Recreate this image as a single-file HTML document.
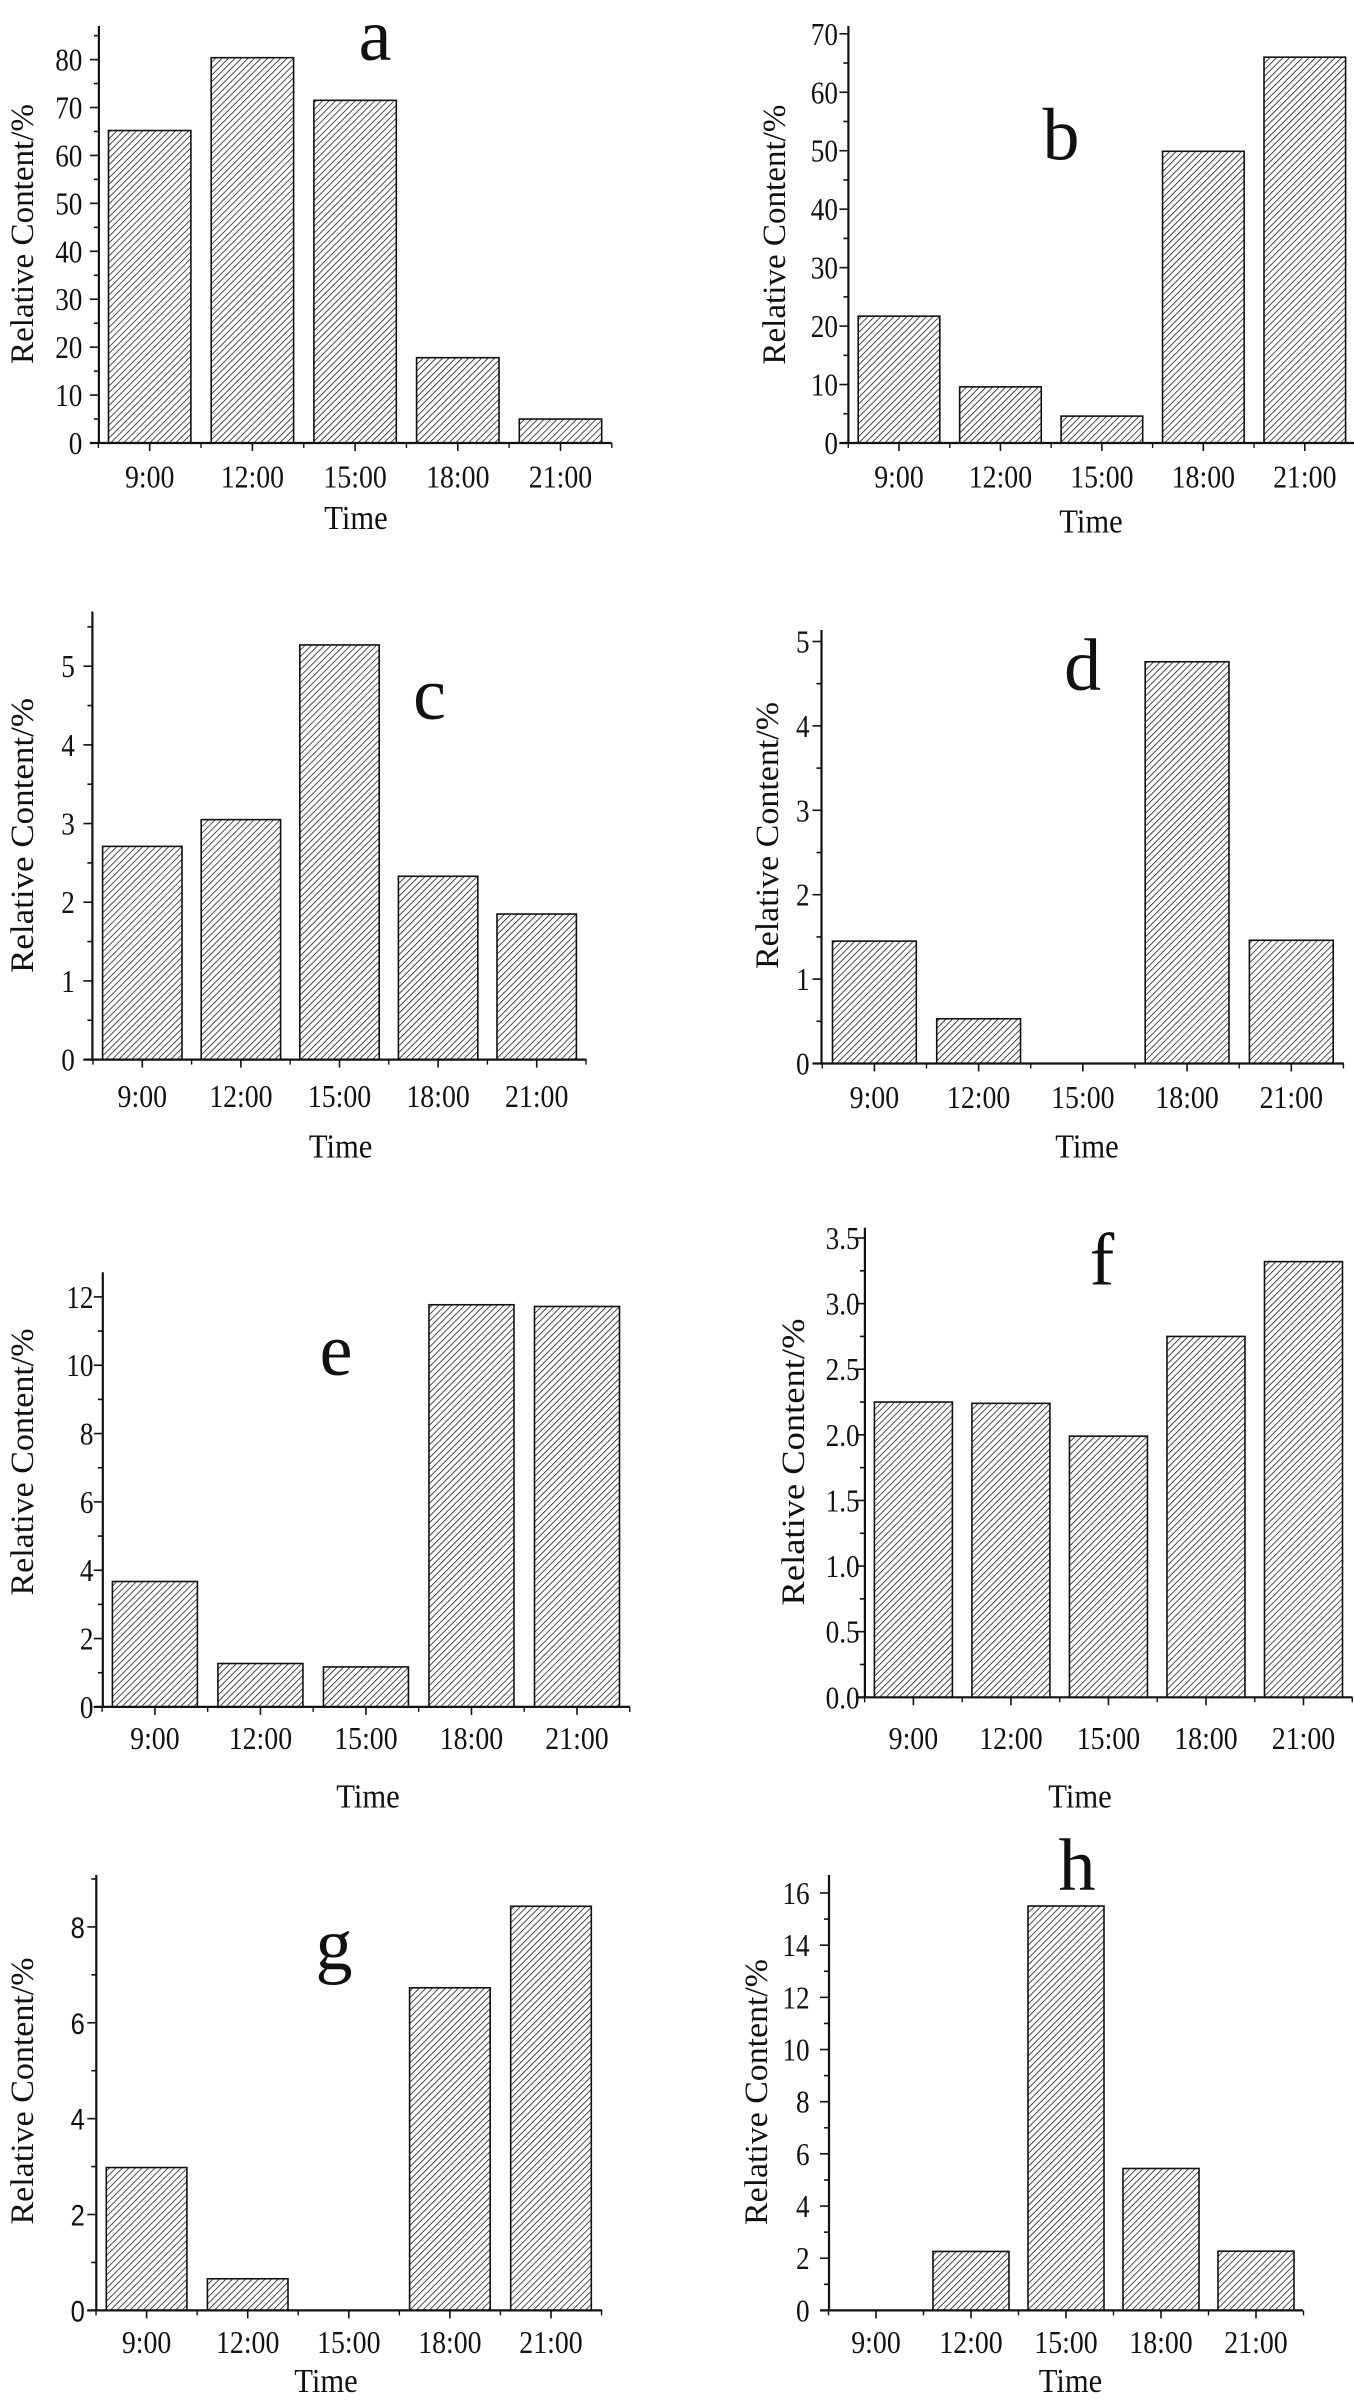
<!DOCTYPE html>
<html><head><meta charset="utf-8">
<style>
html,body{margin:0;padding:0;background:#fff;}
svg{display:block;}
text{font-family:"Liberation Serif",serif;fill:#111;}
</style></head>
<body>
<svg id="fig" width="1354" height="2400" viewBox="0 0 1354 2400" xmlns="http://www.w3.org/2000/svg">
<defs>
<pattern id="hatch" patternUnits="userSpaceOnUse" width="4.6" height="4.6" patternTransform="rotate(45)">
<rect width="4.6" height="4.6" fill="#fff"/>
<line x1="0" y1="0" x2="0" y2="4.6" stroke="#111" stroke-width="1.5"/>
</pattern>
</defs>
</svg>
<script>
const categories = ["9:00","12:00","15:00","18:00","21:00"];
const aValues = [65.2, 80.4, 71.5, 17.8, 5.0];
const bValues = [21.7, 9.6, 4.6, 49.9, 66.0];
const cValues = [2.71, 3.05, 5.27, 2.33, 1.85];
const dValues = [1.45, 0.53, 0, 4.76, 1.46];
const eValues = [3.67, 1.27, 1.17, 11.77, 11.72];
const fValues = [2.25, 2.24, 1.99, 2.75, 3.32];
const gValues = [2.98, 0.66, 0, 6.73, 8.43];
const hValues = [0, 2.26, 15.5, 5.44, 2.27];
const aTicks = [0,10,20,30,40,50,60,70,80];
const bTicks = [0,10,20,30,40,50,60,70];
const cTicks = [0,1,2,3,4,5];
const dTicks = [0,1,2,3,4,5];
const eTicks = [0,2,4,6,8,10,12];
const fTicks = ["0.0","0.5","1.0","1.5","2.0","2.5","3.0","3.5"];
const gTicks = [0,2,4,6,8];
const hTicks = [0,2,4,6,8,10,12,14,16];

const panels = [
 {id:"a",vals:aValues,ticks:aTicks,minor:5,ax:98.9,base:443,refV:80,refY:59.6,top:26,xEnd:611.7,c0:149.7,c4:560.5,half:41.2,lx:375,ly:60,tx:356,ty:529,ylx:32,ylc:234,yll:260,tr:82.4,xly:486.5},
 {id:"b",vals:bValues,ticks:bTicks,minor:5,ax:848.4,base:443,refV:70,refY:33.8,top:26,xEnd:1356,c0:899,c4:1304.8,half:40.8,lx:1061,ly:159.6,tx:1091,ty:532.7,ylx:784,ylc:234.6,yll:260,tr:838,xly:486.5},
 {id:"c",vals:cValues,ticks:cTicks,minor:0.5,ax:92.4,base:1059.6,refV:5,refY:666.2,top:611.5,xEnd:586.5,c0:142.3,c4:536.7,half:39.7,lx:429.5,ly:719,tx:340.6,ty:1157.7,ylx:32,ylc:835.5,yll:275,tr:74.8,xly:1105.8},
 {id:"d",vals:dValues,ticks:dTicks,minor:0.5,ax:821.5,base:1063.5,refV:5,refY:641.5,top:630,xEnd:1343.8,c0:874.4,c4:1291.3,half:41.9,lx:1082.6,ly:690,tx:1087,ty:1157.7,ylx:777,ylc:835.5,yll:267,tr:809.6,xly:1107},
 {id:"e",vals:eValues,ticks:eTicks,minor:1,ax:102.8,base:1706.9,refV:12,refY:1296.9,top:1272.3,xEnd:630,c0:154.9,c4:577,half:42.5,lx:336,ly:1375,tx:368,ty:1807.7,ylx:32,ylc:1462,yll:267,tr:93.5,xly:1748},
 {id:"f",vals:fValues,ticks:fTicks,minor:0.25,ax:864.9,base:1697.3,refV:3.5,refY:1238,top:1227.7,xEnd:1352.5,c0:913.4,c4:1303.5,half:39,lx:1102,ly:1284.6,tx:1080,ty:1807.7,ylx:803,ylc:1462,yll:287,tr:859.6,xly:1748},
 {id:"g",vals:gValues,ticks:gTicks,minor:1,ax:96.3,base:2310.4,refV:8,refY:1926.9,top:1875,xEnd:602.2,c0:146.6,c4:551,half:40.3,lx:334,ly:1969,tx:326,ty:2392,ylx:32,ylc:2091,yll:267,tr:84.8,xly:2352,sans:true},
 {id:"h",vals:hValues,ticks:hTicks,minor:1,ax:829,base:2310.4,refV:16,refY:1893,top:1875,xEnd:1303,c0:876,c4:1256,half:38,lx:1077,ly:1890,tx:1070.5,ty:2392,ylx:766,ylc:2092,yll:266,tr:809.6,xly:2352}
];

const NS = "http://www.w3.org/2000/svg";
const svg = document.getElementById("fig");
function mk(tag, attrs, parent){
  const el = document.createElementNS(NS, tag);
  for (const k in attrs) el.setAttribute(k, attrs[k]);
  parent.appendChild(el);
  return el;
}

panels.forEach(p => {
  const g = mk("g", {}, svg);
  
  
  const ppu = (p.base - p.refY) / p.refV;
  const yOf = v => p.base - v * ppu;
  const step = (p.c4 - p.c0) / 4;
  const xOf = i => p.c0 + i * step;

  p.vals.forEach((v, i) => {
    if (v <= 0) return;
    const r = mk("rect", {x: xOf(i) - p.half, y: yOf(v), width: p.half * 2, height: p.base - yOf(v), fill: "url(#hatch)", stroke: "#111", "stroke-width": 1.6}, g);
    
    
  });

  const ya = mk("line", {x1: p.ax, y1: p.top, x2: p.ax, y2: p.base + 1, stroke: "#111", "stroke-width": 2.2}, g);
  
  
  const xa = mk("line", {x1: p.ax - 9, y1: p.base, x2: p.xEnd, y2: p.base, stroke: "#111", "stroke-width": 2.2}, g);
  
  

  const topVal = (p.base - p.top) / ppu;
  for (let v = 0; v <= topVal + 1e-9; v += p.minor) {
    const isMajor = Math.abs(Math.round(v / (p.minor * 2)) * p.minor * 2 - v) < 1e-6;
    mk("line", {x1: p.ax - (isMajor ? 9 : 5), y1: yOf(v), x2: p.ax, y2: yOf(v), stroke: "#111", "stroke-width": 1.6}, g);
  }
  p.ticks.forEach(t => {
    const v = parseFloat(t);
    const tl = mk("text", {x: 0, y: 0, "text-anchor": "end", "font-size": p.sans ? 30 : 32, transform: "translate(" + p.tr + "," + (yOf(v) + 11) + ") scale(0.85,1)"}, g);
    if (p.sans) tl.setAttribute("style", "font-family:'Liberation Sans',sans-serif");
    tl.textContent = t;
    
    
  });

  categories.forEach((c, i) => {
    mk("line", {x1: xOf(i), y1: p.base, x2: xOf(i), y2: p.base + 8, stroke: "#111", "stroke-width": 1.6}, g);
    const xl = mk("text", {x: 0, y: 0, "text-anchor": "middle", "font-size": 32, transform: "translate(" + xOf(i) + "," + (p.xly + 1) + ") scale(0.87,1)"}, g);
    xl.textContent = c;
    
    
  });
  for (let i = 0; i <= 5; i++) {
    const bx = xOf(i - 0.5);
    mk("line", {x1: bx, y1: p.base, x2: bx, y2: p.base + 5, stroke: "#111", "stroke-width": 1.4}, g);
  }

  const xt = mk("text", {x: 0, y: 0, "text-anchor": "middle", "font-size": 34, transform: "translate(" + p.tx + "," + p.ty + ") scale(0.9,1)"}, g);
  xt.textContent = "Time";
  
  

  const yt = mk("text", {x: 0, y: 0, "text-anchor": "middle", "font-size": 33, textLength: p.yll, lengthAdjust: "spacingAndGlyphs", transform: "translate(" + (p.ylx + 1) + "," + p.ylc + ") rotate(-90)"}, g);
  yt.textContent = "Relative Content/%";
  
  

  const lt = mk("text", {x: p.lx, y: p.ly, "text-anchor": "middle", "font-size": 74}, g);
  lt.textContent = p.id;
  
  
});
</script>
</body></html>
